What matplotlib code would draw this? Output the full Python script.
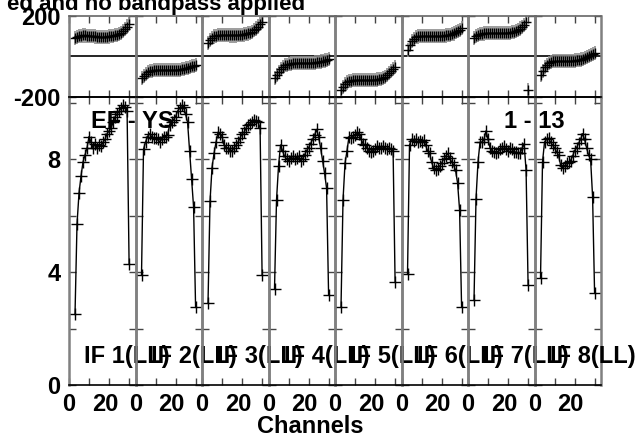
import matplotlib
matplotlib.use("Agg")
import matplotlib.pyplot as plt
from matplotlib.transforms import ScaledTranslation

plt.rcParams['font.family'] = ['Liberation Sans', 'DejaVu Sans']
plt.rcParams['font.weight'] = 'bold'

# channels shown for each IF
channels = list(range(3, 31))
if_labels = ["IF 1(LL)", "IF 2(LL)", "IF 3(LL)", "IF 4(LL)",
             "IF 5(LL)", "IF 6(LL)", "IF 7(LL)", "IF 8(LL)"]

# amplitudes, one list per IF
amp_if1 = [2.5, 5.7, 6.8, 7.4, 7.9, 8.15, 8.4, 8.8, 8.6, 8.4, 8.55, 8.4, 8.5, 8.45,
           8.6, 8.7, 8.9, 9.0, 9.1, 9.3, 9.5, 9.6, 9.7, 9.8, 9.9, 9.85, 9.7, 4.3]
amp_if2 = [3.9, 8.35, 8.6, 8.8, 8.9, 8.8, 8.75, 8.75, 8.7, 8.6, 8.7, 8.8, 8.8, 8.85,
           9.2, 9.3, 9.4, 9.5, 9.7, 9.8, 9.9, 9.85, 9.6, 9.3, 8.3, 7.3, 6.3, 2.75]
amp_if3 = [2.9, 6.5, 7.7, 8.2, 8.6, 8.95, 8.9, 8.8, 8.5, 8.4, 8.4, 8.3, 8.3, 8.4,
           8.5, 8.6, 8.75, 8.9, 8.95, 9.1, 9.2, 9.25, 9.3, 9.4, 9.35, 9.3, 9.1, 3.9]
amp_if4 = [3.4, 6.55, 7.75, 8.5, 8.3, 8.1, 8.0, 7.95, 8.05, 8.1, 8.0, 8.05, 8.1, 7.95,
           8.0, 8.15, 8.3, 8.4, 8.55, 8.7, 8.85, 9.05, 8.8, 8.4, 7.95, 7.5, 6.97, 3.2]
amp_if5 = [2.77, 6.55, 7.85, 8.3, 8.8, 8.75, 8.8, 8.85, 8.95, 8.9, 8.7, 8.55, 8.5, 8.4,
           8.3, 8.25, 8.3, 8.35, 8.45, 8.4, 8.4, 8.45, 8.4, 8.35, 8.4, 8.35, 8.3, 3.66]
amp_if6 = [3.93, 8.5, 8.7, 8.65, 8.7, 8.6, 8.65, 8.6, 8.67, 8.5, 8.3, 8.2, 7.9, 7.7,
           7.6, 7.65, 7.75, 7.85, 8.0, 8.1, 8.2, 8.05, 7.9, 7.8, 7.6, 7.15, 6.2, 2.77]
amp_if7 = [3.0, 6.6, 7.9, 8.6, 8.6, 8.7, 9.0, 8.7, 8.4, 8.3, 8.25, 8.2, 8.25, 8.35,
           8.4, 8.45, 8.35, 8.3, 8.4, 8.35, 8.25, 8.25, 8.2, 8.2, 8.4, 8.55, 7.6, 3.54]
amp_if8 = [3.78, 7.9, 8.6, 8.7, 8.74, 8.6, 8.5, 8.4, 8.26, 8.14, 7.8, 7.7, 7.75, 7.85,
           7.9, 7.95, 8.1, 8.3, 8.4, 8.56, 8.7, 8.9, 8.7, 8.4, 8.14, 8.0, 6.67, 3.25]

# phases (degrees)
phase_if1 = [91, 96, 100, 103, 104, 104, 103, 102, 101, 100, 99, 98, 97, 97,
             97, 97, 98, 99, 100, 102, 105, 108, 112, 118, 125, 135, 148, 162]
phase_if2 = [-106, -95, -85, -78, -73, -70, -68, -67, -66, -66, -66, -67, -67, -68,
             -68, -68, -68, -67, -66, -65, -63, -61, -58, -55, -52, -48, -45, -42]
phase_if3 = [66, 80, 92, 99, 103, 105, 106, 106, 106, 105, 105, 104, 104, 104,
             104, 105, 106, 107, 109, 111, 114, 118, 123, 130, 138, 148, 160, 172]
phase_if4 = [-106, -92, -75, -60, -50, -44, -40, -37, -35, -34, -34, -33, -33, -33,
             -33, -33, -33, -32, -32, -31, -30, -29, -27, -25, -22, -20, -17, -14]
phase_if5 = [-165, -150, -138, -128, -122, -119, -117, -116, -116, -115, -115, -115, -115, -115,
             -115, -116, -116, -115, -114, -112, -110, -106, -100, -92, -82, -72, -62, -52]
phase_if6 = [32, 55, 75, 88, 95, 99, 100, 101, 101, 101, 101, 101, 101, 101,
             101, 101, 102, 102, 103, 104, 105, 107, 110, 114, 119, 125, 132, 140]
phase_if7 = [91, 100, 107, 111, 113, 114, 115, 115, 115, 115, 115, 115, 115, 115,
             115, 115, 116, 117, 118, 120, 123, 127, 132, 138, 146, 155, 168, -165]
phase_if8 = [-91, -70, -52, -40, -32, -27, -24, -23, -22, -22, -22, -22, -22, -22,
             -22, -22, -21, -20, -19, -17, -15, -12, -8, -4, 1, 6, 11, 16]
phase_err = 35

amps = [amp_if1, amp_if2, amp_if3, amp_if4, amp_if5, amp_if6, amp_if7, amp_if8]
phases = [phase_if1, phase_if2, phase_if3, phase_if4, phase_if5, phase_if6, phase_if7, phase_if8]

fs = 17

fig = plt.figure(figsize=(6.4, 4.4), dpi=100)
gs = fig.add_gridspec(2, 8, left=69/640, right=601/640, top=1-16/440, bottom=1-385/440,
                      hspace=0, wspace=0, height_ratios=[81, 288])

shift_left = ScaledTranslation(-4/100, 0, fig.dpi_scale_trans)

for i in range(8):
    axp = fig.add_subplot(gs[0, i])
    axa = fig.add_subplot(gs[1, i])
    for ax in (axp, axa):
        ax.set_facecolor('none')
        ax.set_xlim(0, 33.2)
        ax.set_xticks([0, 10, 20, 30])
        ax.tick_params(direction='in', top=True, right=True, length=5, width=1,
                       color='#444444', labelsize=fs, pad=6)
        for side in ('left', 'right'):
            ax.spines[side].set_color('#808080')
            ax.spines[side].set_linewidth(1.8)
        ax.spines['top'].set_linewidth(1.2)
        ax.spines['bottom'].set_linewidth(1.2)

    axp.set_ylim(-200, 200)
    axp.set_yticks([-200, 200])
    axp.axhline(0, color='black', lw=1.2)
    axp.errorbar(channels, phases[i], yerr=phase_err, fmt='none', ecolor='#8c8c8c', elinewidth=1.2)
    axp.plot(channels, phases[i], 'k+', ms=7, mew=1)
    axp.set_xticklabels([])
    axp.spines['top'].set_color('#666666')

    axa.plot(channels, amps[i], color='black', lw=1, marker='+', ms=9, mew=1)
    axa.set_ylim(0, 10.2)
    axa.set_yticks([0, 2, 4, 6, 8, 10])
    axa.set_xticklabels(['0', '', '20', ''])
    lab20 = axa.get_xticklabels()[2]
    lab20.set_transform(lab20.get_transform() + shift_left)

    if i == 0:
        axp.set_yticklabels(['-200', '200'])
        axa.set_yticklabels(['0', '', '4', '', '8', ''])
    else:
        axp.set_yticklabels([])
        axa.set_yticklabels([])

    axa.text(7.5, 1.0, if_labels[i], fontsize=fs, fontweight='bold', ha='left', va='center', zorder=10)

fig.text(132.5/640, 1-121.5/440, "EF - YS", fontsize=fs, fontweight='bold', ha='center', va='center')
fig.text(534/640, 1-121.5/440, "1 - 13", fontsize=fs, fontweight='bold', ha='center', va='center')
fig.text(310/640, 1-426/440, "Channels", fontsize=fs, fontweight='bold', ha='center', va='center')
fig.text(305/640, 1-10/440, "ed and no bandpass applied", fontsize=16, fontweight='bold',
         ha='right', va='baseline')

fig.savefig("out.png", dpi=100)
